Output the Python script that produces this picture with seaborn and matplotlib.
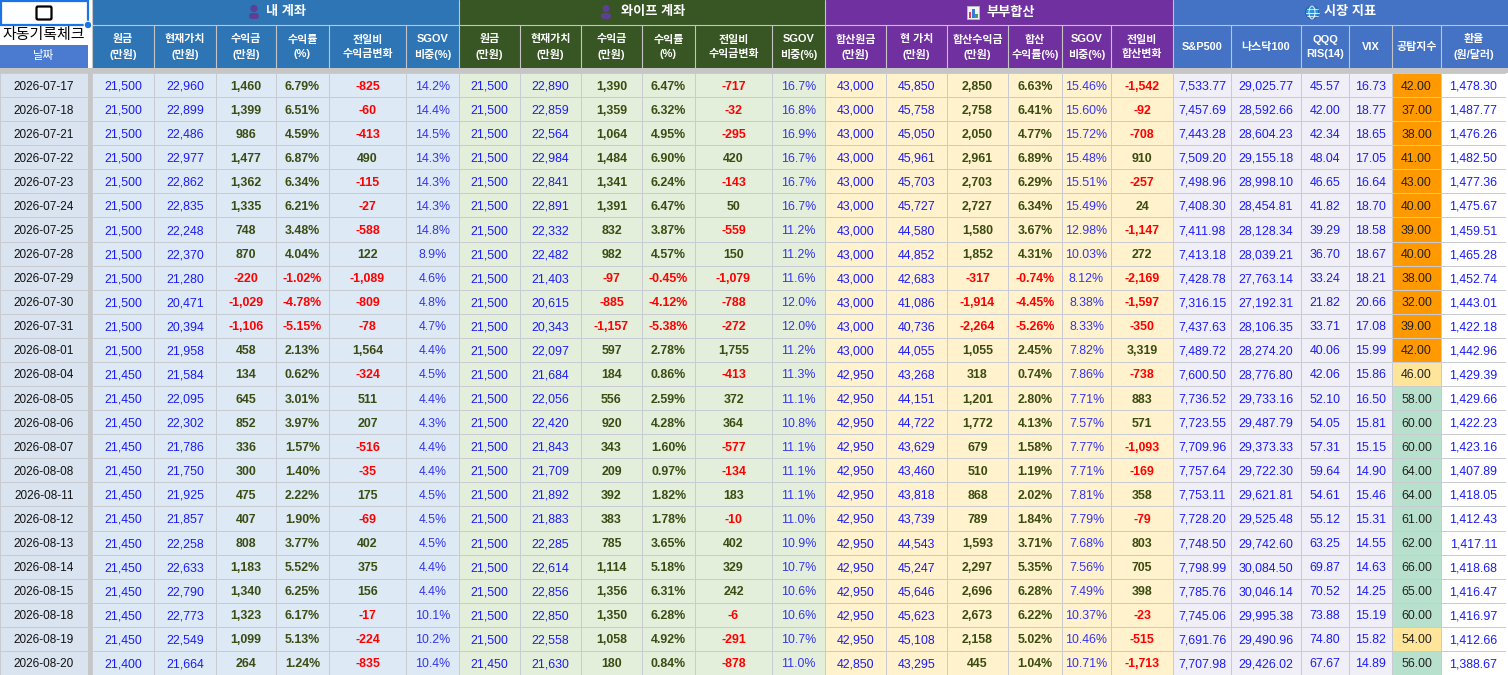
import numpy as np
import seaborn as sns
import matplotlib
matplotlib.use('Agg')
import matplotlib.pyplot as plt
from matplotlib.colors import ListedColormap
from matplotlib import patches

sns.set_style('white')
plt.rcParams['font.family'] = ['Liberation Sans', 'Noto Sans CJK KR', 'DejaVu Sans']

# ---- data ----
dates = ['2026-07-17', '2026-07-18', '2026-07-21', '2026-07-22', '2026-07-23', '2026-07-24',
         '2026-07-25', '2026-07-28', '2026-07-29', '2026-07-30', '2026-07-31', '2026-08-01',
         '2026-08-04', '2026-08-05', '2026-08-06', '2026-08-07', '2026-08-08', '2026-08-11',
         '2026-08-12', '2026-08-13', '2026-08-14', '2026-08-15', '2026-08-18', '2026-08-19',
         '2026-08-20']

my_principal = [21500] * 12 + [21450] * 12 + [21400]
my_value = [22960, 22899, 22486, 22977, 22862, 22835, 22248, 22370, 21280, 20471, 20394, 21958,
            21584, 22095, 22302, 21786, 21750, 21925, 21857, 22258, 22633, 22790, 22773, 22549, 21664]
my_profit = [1460, 1399, 986, 1477, 1362, 1335, 748, 870, -220, -1029, -1106, 458,
             134, 645, 852, 336, 300, 475, 407, 808, 1183, 1340, 1323, 1099, 264]
my_rate = [6.79, 6.51, 4.59, 6.87, 6.34, 6.21, 3.48, 4.04, -1.02, -4.78, -5.15, 2.13,
           0.62, 3.01, 3.97, 1.57, 1.40, 2.22, 1.90, 3.77, 5.52, 6.25, 6.17, 5.13, 1.24]
my_change = [-825, -60, -413, 490, -115, -27, -588, 122, -1089, -809, -78, 1564,
             -324, 511, 207, -516, -35, 175, -69, 402, 375, 156, -17, -224, -835]
my_sgov = [14.2, 14.4, 14.5, 14.3, 14.3, 14.3, 14.8, 8.9, 4.6, 4.8, 4.7, 4.4,
           4.5, 4.4, 4.3, 4.4, 4.4, 4.5, 4.5, 4.5, 4.4, 4.4, 10.1, 10.2, 10.4]

wife_principal = [21500] * 24 + [21450]
wife_value = [22890, 22859, 22564, 22984, 22841, 22891, 22332, 22482, 21403, 20615, 20343, 22097,
              21684, 22056, 22420, 21843, 21709, 21892, 21883, 22285, 22614, 22856, 22850, 22558, 21630]
wife_profit = [1390, 1359, 1064, 1484, 1341, 1391, 832, 982, -97, -885, -1157, 597,
               184, 556, 920, 343, 209, 392, 383, 785, 1114, 1356, 1350, 1058, 180]
wife_rate = [6.47, 6.32, 4.95, 6.90, 6.24, 6.47, 3.87, 4.57, -0.45, -4.12, -5.38, 2.78,
             0.86, 2.59, 4.28, 1.60, 0.97, 1.82, 1.78, 3.65, 5.18, 6.31, 6.28, 4.92, 0.84]
wife_change = [-717, -32, -295, 420, -143, 50, -559, 150, -1079, -788, -272, 1755,
               -413, 372, 364, -577, -134, 183, -10, 402, 329, 242, -6, -291, -878]
wife_sgov = [16.7, 16.8, 16.9, 16.7, 16.7, 16.7, 11.2, 11.2, 11.6, 12.0, 12.0, 11.2,
             11.3, 11.1, 10.8, 11.1, 11.1, 11.1, 11.0, 10.9, 10.7, 10.6, 10.6, 10.7, 11.0]

sum_principal = [43000] * 12 + [42950] * 12 + [42850]
sum_value = [45850, 45758, 45050, 45961, 45703, 45727, 44580, 44852, 42683, 41086, 40736, 44055,
             43268, 44151, 44722, 43629, 43460, 43818, 43739, 44543, 45247, 45646, 45623, 45108, 43295]
sum_profit = [2850, 2758, 2050, 2961, 2703, 2727, 1580, 1852, -317, -1914, -2264, 1055,
              318, 1201, 1772, 679, 510, 868, 789, 1593, 2297, 2696, 2673, 2158, 445]
sum_rate = [6.63, 6.41, 4.77, 6.89, 6.29, 6.34, 3.67, 4.31, -0.74, -4.45, -5.26, 2.45,
            0.74, 2.80, 4.13, 1.58, 1.19, 2.02, 1.84, 3.71, 5.35, 6.28, 6.22, 5.02, 1.04]
sum_sgov = [15.46, 15.60, 15.72, 15.48, 15.51, 15.49, 12.98, 10.03, 8.12, 8.38, 8.33, 7.82,
            7.86, 7.71, 7.57, 7.77, 7.71, 7.81, 7.79, 7.68, 7.56, 7.49, 10.37, 10.46, 10.71]
sum_change = [-1542, -92, -708, 910, -257, 24, -1147, 272, -2169, -1597, -350, 3319,
              -738, 883, 571, -1093, -169, 358, -79, 803, 705, 398, -23, -515, -1713]

sp500 = [7533.77, 7457.69, 7443.28, 7509.20, 7498.96, 7408.30, 7411.98, 7413.18, 7428.78, 7316.15,
         7437.63, 7489.72, 7600.50, 7736.52, 7723.55, 7709.96, 7757.64, 7753.11, 7728.20, 7748.50,
         7798.99, 7785.76, 7745.06, 7691.76, 7707.98]
nasdaq100 = [29025.77, 28592.66, 28604.23, 29155.18, 28998.10, 28454.81, 28128.34, 28039.21,
             27763.14, 27192.31, 28106.35, 28274.20, 28776.80, 29733.16, 29487.79, 29373.33,
             29722.30, 29621.81, 29525.48, 29742.60, 30084.50, 30046.14, 29995.38, 29490.96, 29426.02]
qqq_rsi = [45.57, 42.00, 42.34, 48.04, 46.65, 41.82, 39.29, 36.70, 33.24, 21.82, 33.71, 40.06,
           42.06, 52.10, 54.05, 57.31, 59.64, 54.61, 55.12, 63.25, 69.87, 70.52, 73.88, 74.80, 67.67]
vix = [16.73, 18.77, 18.65, 17.05, 16.64, 18.70, 18.58, 18.67, 18.21, 20.66, 17.08, 15.99,
       15.86, 16.50, 15.81, 15.15, 14.90, 15.46, 15.31, 14.55, 14.63, 14.25, 15.19, 15.82, 14.89]
fear_greed = [42, 37, 38, 41, 43, 40, 39, 40, 38, 32, 39, 42, 46, 58, 60, 60, 64, 64, 61, 62,
              66, 65, 60, 54, 56]
usd_krw = [1478.30, 1487.77, 1476.26, 1482.50, 1477.36, 1475.67, 1459.51, 1465.28, 1452.74,
           1443.01, 1422.18, 1442.96, 1429.39, 1429.66, 1422.23, 1423.16, 1407.89, 1418.05,
           1412.43, 1417.11, 1418.68, 1416.47, 1416.97, 1412.66, 1388.67]

# ---- layout (pixels) ----
W, H = 1508, 675
fig = plt.figure(figsize=(W / 100, H / 100), dpi=100, facecolor='white')
ax0 = fig.add_axes([0, 0, 1, 1])
ax0.set_xlim(0, W)
ax0.set_ylim(H, 0)
ax0.axis('off')

BLUE_TXT = '#1c1cf8'
OLIVE = '#3a4c12'
RED = '#ff0000'
GRID = '#c8ccd2'
HDR_LINE = '#c4c4c4'
TOP = 73


def fmt_int(v):
    return f'{v:,}'


def col_axes(x0, x1):
    return fig.add_axes([x0 / W, 0, (x1 - x0) / W, (H - TOP) / H])


def draw_col(x0, x1, labels, bg, colors, weight='normal', cats=None, palette=None, size=8.9):
    ax = col_axes(x0, x1)
    n = len(labels)
    if cats is None:
        data = np.zeros((n, 1))
        cmap = ListedColormap([bg])
        vmax = 1
    else:
        data = np.array(cats, dtype=float).reshape(-1, 1)
        cmap = ListedColormap(palette)
        vmax = len(palette) - 1
    sns.heatmap(data, ax=ax, cmap=cmap, vmin=0, vmax=vmax, cbar=False,
                annot=np.array(labels).reshape(-1, 1), fmt='',
                annot_kws=dict(fontsize=size, fontweight=weight),
                linewidths=0.7, linecolor=GRID, xticklabels=False, yticklabels=False)
    for t, c in zip(ax.texts, colors):
        t.set_color(c)
        t.set_va('center_baseline')
    return ax


def signed_colors(vals):
    return [RED if v < 0 else OLIVE for v in vals]


# ---- header backgrounds ----
groups = [
    (92, 459, '#2e75b6', '내 계좌', 286, 254, 'person'),
    (459, 825, '#375623', '와이프 계좌', 653, 606, 'person'),
    (825, 1173, '#7030a0', '부부합산', 1011, 973, 'chart'),
    (1173, 1508, '#4472c4', '시장 지표', 1350, 1312, 'globe'),
]
sub_edges = {
    0: [92, 154, 216, 276, 329, 406, 459],
    1: [459, 520, 581, 642, 695, 772, 825],
    2: [825, 886, 947, 1008, 1062, 1111, 1173],
    3: [1173, 1231, 1301, 1349, 1392, 1441, 1506],
}
sub_labels = {
    0: ['원금\n(만원)', '현재가치\n(만원)', '수익금\n(만원)', '수익률\n(%)', '전일비\n수익금변화', 'SGOV\n비중(%)'],
    1: ['원금\n(만원)', '현재가치\n(만원)', '수익금\n(만원)', '수익률\n(%)', '전일비\n수익금변화', 'SGOV\n비중(%)'],
    2: ['합산원금\n(만원)', '현 가치\n(만원)', '합산수익금\n(만원)', '합산\n수익률(%)', 'SGOV\n비중(%)', '전일비\n합산변화'],
    3: ['S&P500', '나스닥100', 'QQQ\nRIS(14)', 'VIX', '공탐지수', '환율\n(원/달러)'],
}

for gi, (gx0, gx1, gcol, gtitle, tx, ix, icon) in enumerate(groups):
    ax0.add_patch(patches.Rectangle((gx0, 0), gx1 - gx0, 68, facecolor=gcol, edgecolor='none'))
    ax0.plot([gx0, gx1], [25, 25], color=HDR_LINE, lw=0.8)
    ax0.text(tx, 12.5, gtitle, color='white', fontsize=9.5, fontweight='bold', ha='center', va='center')
    if icon == 'person':
        ax0.add_patch(patches.Circle((ix, 8.5), 3.6, facecolor='#5e3f94', edgecolor='none'))
        ax0.add_patch(patches.FancyBboxPatch((ix - 5, 13), 10, 6, boxstyle='round,pad=0,rounding_size=3',
                                             facecolor='#5e3f94', edgecolor='none'))
    elif icon == 'chart':
        ax0.add_patch(patches.Rectangle((ix - 6, 6), 12, 13, facecolor='#f4f4f4', edgecolor='#bbbbbb', lw=0.6))
        for bx, bh, bc in [(ix - 4, 6, '#e03a5a'), (ix - 0.8, 9, '#3a7bd5'), (ix + 2.4, 4, '#3aa65a')]:
            ax0.add_patch(patches.Rectangle((bx, 18 - bh), 2.4, bh, facecolor=bc, edgecolor='none'))
    else:
        ax0.add_patch(patches.Circle((ix, 12.5), 6.5, facecolor='#2f8fd8', edgecolor='#1c5fa8', lw=0.6))
        ax0.add_patch(patches.Ellipse((ix, 12.5), 6, 13, facecolor='none', edgecolor='white', lw=0.6))
        ax0.plot([ix - 6.5, ix + 6.5], [12.5, 12.5], color='white', lw=0.6)
        ax0.plot([ix - 5.5, ix + 5.5], [9, 9], color='white', lw=0.5)
        ax0.plot([ix - 5.5, ix + 5.5], [16, 16], color='white', lw=0.5)
    edges = sub_edges[gi]
    for k, lab in enumerate(sub_labels[gi]):
        cx = (edges[k] + edges[k + 1]) / 2
        ax0.text(cx, 47, lab, color='white', fontsize=7.9, fontweight='bold', ha='center', va='center',
                 linespacing=1.45)
        if k > 0:
            ax0.plot([edges[k], edges[k]], [25, 68], color=HDR_LINE, lw=0.8)
    ax0.plot([gx0, gx0], [0, 68], color=HDR_LINE, lw=0.8)

# top-left cells
ax0.add_patch(patches.Rectangle((0, 0), 88, 68, facecolor='white', edgecolor='none'))
ax0.add_patch(patches.Rectangle((1, 1), 87, 24, facecolor='white', edgecolor='#1a73e8', lw=1.6))
ax0.add_patch(patches.FancyBboxPatch((36.5, 6.5), 15, 13, boxstyle='round,pad=0,rounding_size=1.5',
                                     facecolor='white', edgecolor='black', lw=1.6))
ax0.text(44, 35, '자동기록체크', fontsize=10.8, ha='center', va='center', color='black')
ax0.add_patch(patches.Rectangle((0, 45), 88, 23, facecolor='#4a7bd0', edgecolor='none'))
ax0.text(44, 56.5, '날짜', fontsize=8.3, ha='center', va='center', color='white')
ax0.add_patch(patches.Circle((88, 25), 3.8, facecolor='#1a73e8', edgecolor='white', lw=0.8, zorder=5))

# gray separators
ax0.add_patch(patches.Rectangle((0, 68), W, 5, facecolor='#c6c6c6', edgecolor='none'))
ax0.add_patch(patches.Rectangle((88, 68), 4, H - 68, facecolor='#c6c6c6', edgecolor='none'))

# ---- data columns ----
n = len(dates)
draw_col(0, 88, dates, '#dae3f0', ['#111111'] * n, size=8.5)

blocks = [
    (sub_edges[0], '#ddeaf5',
     [my_principal, my_value, my_profit, my_rate, my_change, my_sgov]),
    (sub_edges[1], '#e3efda',
     [wife_principal, wife_value, wife_profit, wife_rate, wife_change, wife_sgov]),
]
for edges, bg, cols in blocks:
    principal, value, profit, rate, change, sgov = cols
    draw_col(edges[0], edges[1], [fmt_int(v) for v in principal], bg, [BLUE_TXT] * n)
    draw_col(edges[1], edges[2], [fmt_int(v) for v in value], bg, [BLUE_TXT] * n)
    draw_col(edges[2], edges[3], [fmt_int(v) for v in profit], bg, signed_colors(profit), 'bold')
    draw_col(edges[3], edges[4], [f'{v:.2f}%' for v in rate], bg, signed_colors(rate), 'bold')
    draw_col(edges[4], edges[5], [fmt_int(v) for v in change], bg, signed_colors(change), 'bold')
    draw_col(edges[5], edges[6], [f'{v:.1f}%' for v in sgov], bg, ['#3535ee'] * n)

e = sub_edges[2]
bg = '#fff2cc'
draw_col(e[0], e[1], [fmt_int(v) for v in sum_principal], bg, [BLUE_TXT] * n)
draw_col(e[1], e[2], [fmt_int(v) for v in sum_value], bg, [BLUE_TXT] * n)
draw_col(e[2], e[3], [fmt_int(v) for v in sum_profit], bg, signed_colors(sum_profit), 'bold')
draw_col(e[3], e[4], [f'{v:.2f}%' for v in sum_rate], bg, signed_colors(sum_rate), 'bold')
draw_col(e[4], e[5], [f'{v:.2f}%' for v in sum_sgov], bg, ['#3535ee'] * n)
draw_col(e[5], e[6], [fmt_int(v) for v in sum_change], bg, signed_colors(sum_change), 'bold')

e = sub_edges[3]
bg = '#f0eff7'
draw_col(e[0], e[1], [f'{v:,.2f}' for v in sp500], bg, [BLUE_TXT] * n)
draw_col(e[1], e[2], [f'{v:,.2f}' for v in nasdaq100], bg, [BLUE_TXT] * n)
draw_col(e[2], e[3], [f'{v:.2f}' for v in qqq_rsi], bg, [BLUE_TXT] * n)
draw_col(e[3], e[4], [f'{v:.2f}' for v in vix], bg, [BLUE_TXT] * n)
fg_cats = np.digitize(fear_greed, [45, 56])
draw_col(e[4], e[5], [f'{v:.2f}' for v in fear_greed], None, ['#222222'] * n,
         cats=fg_cats, palette=['#ff9900', '#ffe599', '#b7e1cd'])
draw_col(e[5], e[6], [f'{v:,.2f}' for v in usd_krw], '#ffffff', [BLUE_TXT] * n)

fig.savefig('out.png', dpi=100, facecolor='white')
